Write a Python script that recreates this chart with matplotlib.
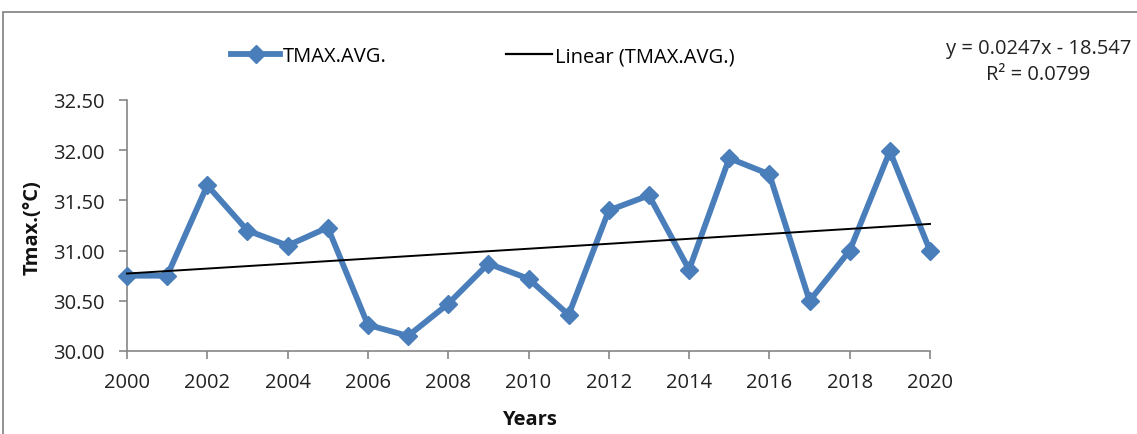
import numpy as np
import matplotlib
matplotlib.use("Agg")
import matplotlib.pyplot as plt
from matplotlib.lines import Line2D
from matplotlib.patches import Rectangle

plt.rcParams['font.family'] = ['Open Sans', 'DejaVu Sans']

years = [2000, 2001, 2002, 2003, 2004, 2005, 2006, 2007, 2008, 2009, 2010,
         2011, 2012, 2013, 2014, 2015, 2016, 2017, 2018, 2019, 2020]
tmax_avg = [30.75, 30.75, 31.65, 31.20, 31.05, 31.23, 30.26, 30.15, 30.47, 30.87, 30.72,
            30.36, 31.40, 31.55, 30.81, 31.92, 31.76, 30.50, 31.00, 31.99, 31.00]
x_ticks = list(range(2000, 2021, 2))
y_ticks = [30.00, 30.50, 31.00, 31.50, 32.00, 32.50]
series_label = "TMAX.AVG."
trend_label = "Linear (TMAX.AVG.)"
equation_text = "y = 0.0247x - 18.547"
r2_text = "R\u00b2 = 0.0799"

W, H = 1137, 435
FS = 14.5
fig = plt.figure(figsize=(W / 100, H / 100), dpi=100)

# outer chart border (cut off at right and bottom)
fig.patches.append(Rectangle((3 / W, -0.1), 1.2, 1 - 13 / H + 0.1, transform=fig.transFigure,
                             fill=False, edgecolor='#7f7f7f', linewidth=1.2))

ax = fig.add_axes([127 / W, 1 - 352 / H, (930 - 127) / W, (352 - 101) / H])

blue = '#4a7ebb'
ax.plot(years, tmax_avg, color=blue, linewidth=4.2, marker='D', markersize=9,
        markerfacecolor=blue, markeredgecolor=blue, zorder=3, clip_on=False)

coef = np.polyfit(years, tmax_avg, 1)
xs = np.array([years[0], years[-1]])
ax.plot(xs, np.polyval(coef, xs), color='black', linewidth=1.4, zorder=4, clip_on=False)

ax.set_xlim(2000, 2020)
ax.set_ylim(30.0, 32.5)
ax.set_xticks(x_ticks)
ax.set_yticks(y_ticks)
ax.set_yticklabels([f"{v:.2f}" for v in y_ticks])
for s in ['top', 'right']:
    ax.spines[s].set_visible(False)
for s in ['left', 'bottom']:
    ax.spines[s].set_color('#868686')
    ax.spines[s].set_linewidth(1.2)
ax.tick_params(axis='both', direction='out', length=6, width=1.2, color='#868686',
               labelsize=FS, labelcolor='#222222')
ax.tick_params(axis='x', pad=9)
ax.tick_params(axis='y', pad=10)

ax.set_xlabel("Years", fontsize=FS, fontweight='bold', va='center', color='#111111')
ax.xaxis.set_label_coords(529 / W, 1 - 420 / H, transform=fig.transFigure)
ax.set_ylabel("Tmax.(\u00b0C)", fontsize=FS, fontweight='bold', va='center', color='#111111')
ax.yaxis.set_label_coords(33 / W, 1 - 228 / H, transform=fig.transFigure)

h1 = Line2D([], [], color=blue, linewidth=4.2, marker='D', markersize=9)
h2 = Line2D([], [], color='black', linewidth=1.6)
fig.legend([h1], [series_label], loc='center left',
           bbox_to_anchor=(231 / W, 1 - 57 / H), frameon=False, borderpad=0,
           borderaxespad=0, fontsize=FS, handlelength=2.45, handletextpad=0.15)
fig.legend([h2], [trend_label], loc='center left',
           bbox_to_anchor=(506 / W, 1 - 57 / H), frameon=False, borderpad=0,
           borderaxespad=0, fontsize=FS, handlelength=2.3, handletextpad=0.15)

fig.text(1039 / W, 1 - 49 / H, equation_text, ha='center', va='center', fontsize=FS,
         color='#222222')
fig.text(1038 / W, 1 - 75 / H, r2_text, ha='center', va='center', fontsize=FS,
         color='#222222')

fig.savefig("out.png", dpi=100)
